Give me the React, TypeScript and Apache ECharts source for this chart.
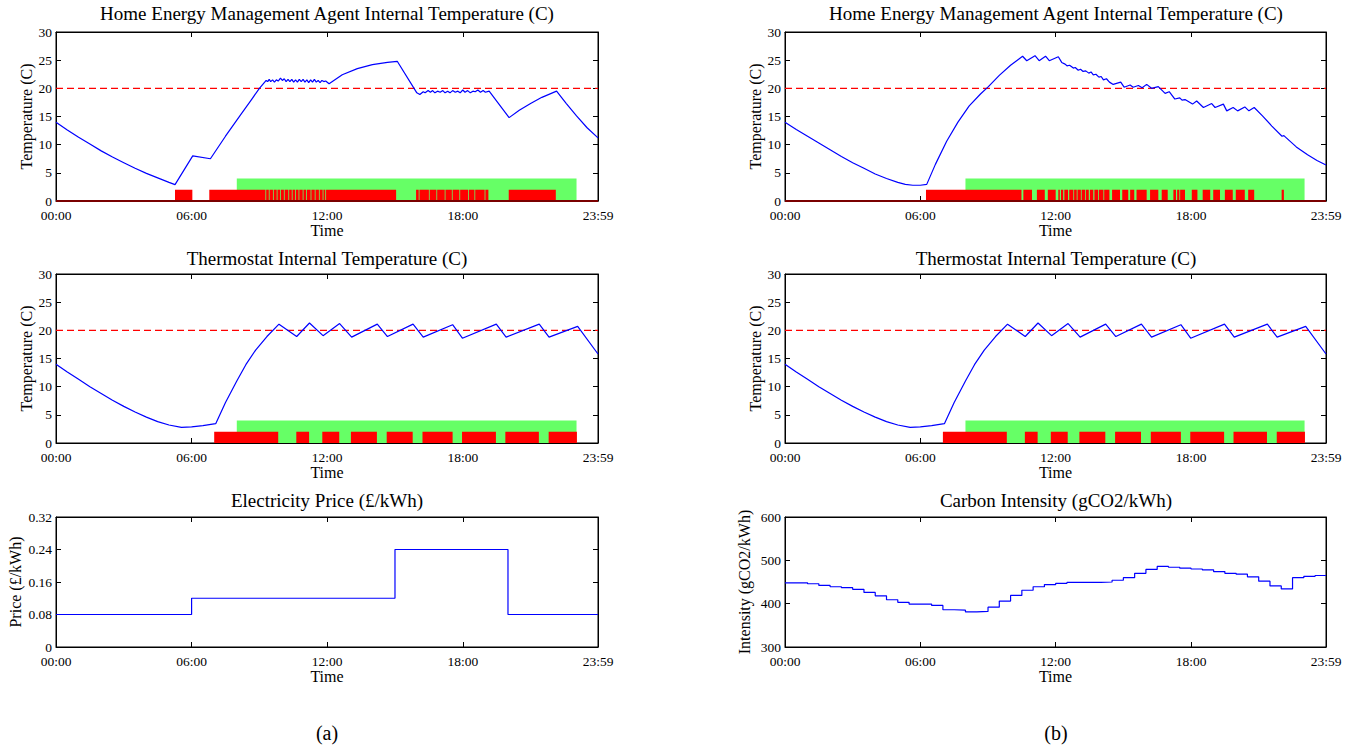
import React, { useEffect, useRef } from "react";
import * as echarts from "echarts";

const FONT = "'Liberation Serif', 'Times New Roman', serif";

// ---- axis ticks ----
const xTickValues = [0, 360, 720, 1080, 1439];
const xTickLabels = ["00:00", "06:00", "12:00", "18:00", "23:59"];
const dayEnd = 1439;
const setpoint = 20;
const heatLevel = 2;
const comfortLevel = 4;
const comfortWindow = [[480, 1382]];

// ---- (a) HEMS agent internal temperature [minute, degC] ----
const hemsTempA = [
  [0, 14.0], [30, 12.6], [60, 11.3], [90, 10.1], [120, 8.9], [150, 7.8], [180, 6.8], [210, 5.8],
  [240, 4.9], [270, 4.1], [300, 3.3], [316, 2.9], [363, 8.0], [410, 7.5], [450, 11.5], [490, 15.3],
  [520, 18.1], [540, 20.0], [558, 21.4], [562, 21.2], [566, 21.6], [570, 21.2], [575, 21.5], [580, 21.1],
  [585, 21.5], [590, 21.3], [596, 21.8], [601, 21.4], [606, 21.7], [611, 21.2], [616, 21.6], [621, 21.2],
  [626, 21.6], [631, 21.1], [636, 21.5], [641, 21.1], [646, 21.6], [651, 21.2], [656, 21.6], [661, 21.1],
  [666, 21.5], [671, 21.0], [676, 21.5], [681, 21.1], [686, 21.6], [691, 21.1], [696, 21.4], [701, 21.0],
  [706, 21.4], [711, 21.2], [716, 21.3], [725, 20.8], [760, 22.4], [800, 23.5], [840, 24.2], [880, 24.6],
  [906, 24.8], [958, 19.2], [966, 18.9], [975, 19.4], [980, 19.2], [988, 19.6], [994, 19.3], [1000, 19.6],
  [1006, 19.2], [1013, 19.5], [1020, 19.3], [1027, 19.6], [1033, 19.2], [1040, 19.5], [1046, 19.2],
  [1053, 19.6], [1060, 19.3], [1067, 19.5], [1073, 19.2], [1080, 19.7], [1086, 19.3], [1093, 19.6],
  [1100, 19.2], [1107, 19.5], [1113, 19.4], [1120, 19.7], [1127, 19.3], [1134, 19.6], [1140, 19.3],
  [1150, 19.5], [1203, 14.8], [1230, 16.1], [1260, 17.3], [1290, 18.4], [1329, 19.5], [1355, 17.3],
  [1382, 15.1], [1410, 13.0], [1439, 11.2],
];
// heater on intervals [start, end] minutes
const hemsHeatA = [
  [316, 362], [407, 556], [558, 565], [567, 576], [578, 586], [588, 595], [597, 605], [607, 617],
  [619, 626], [628, 635], [637, 644], [646, 655], [657, 664], [666, 676], [678, 687], [689, 698],
  [700, 708], [710, 715], [717, 903], [956, 963], [965, 990], [992, 1010], [1012, 1032], [1034, 1051],
  [1053, 1071], [1073, 1094], [1096, 1111], [1113, 1138], [1140, 1148], [1202, 1327],
];

// ---- (b) HEMS agent internal temperature ----
const hemsTempB = [
  [0, 14.0], [30, 12.7], [60, 11.5], [90, 10.3], [120, 9.1], [150, 7.9], [180, 6.8], [210, 5.8],
  [240, 4.8], [270, 4.0], [300, 3.3], [320, 2.95], [340, 2.8], [360, 2.8], [377, 2.95], [400, 6.5],
  [430, 10.6], [460, 14.0], [490, 16.9], [520, 19.0], [541, 20.3], [570, 22.3], [600, 24.1], [632, 25.7],
  [643, 24.9], [665, 25.8], [676, 24.9], [693, 25.7], [703, 24.9], [727, 25.6], [736, 24.6], [745, 24.3],
  [750, 24.0], [757, 24.1], [767, 23.6], [772, 23.7], [780, 23.2], [786, 23.4], [793, 23.0], [800, 23.1],
  [808, 22.7], [814, 22.9], [820, 22.4], [827, 22.5], [835, 22.0], [841, 22.1], [847, 21.5], [855, 21.7],
  [863, 21.1], [873, 20.7], [893, 21.1], [902, 20.2], [918, 20.6], [926, 20.2], [940, 20.5], [950, 20.1],
  [962, 20.7], [975, 20.0], [993, 20.3], [1011, 19.1], [1022, 19.4], [1037, 18.1], [1050, 18.3],
  [1056, 17.9], [1064, 18.0], [1084, 17.2], [1095, 17.75], [1113, 16.6], [1135, 17.3], [1144, 16.6],
  [1166, 17.2], [1175, 16.0], [1192, 16.6], [1204, 16.0], [1223, 16.7], [1234, 16.0], [1248, 16.6],
  [1270, 15.1], [1295, 13.3], [1322, 11.5], [1327, 11.6], [1332, 11.3], [1360, 9.6], [1390, 8.2],
  [1415, 7.2], [1439, 6.4],
];
const hemsHeatB = [
  [375, 629], [634, 657], [670, 691], [699, 720], [727, 731], [734, 740], [743, 753], [756, 767],
  [769, 776], [778, 787], [789, 798], [800, 808], [811, 820], [823, 833], [835, 847], [849, 863],
  [870, 891], [897, 913], [918, 929], [935, 962], [971, 993], [1002, 1018], [1033, 1040], [1043, 1049],
  [1051, 1064], [1082, 1097], [1111, 1131], [1139, 1157], [1170, 1191], [1199, 1223], [1232, 1248],
  [1321, 1327],
];

// ---- thermostat internal temperature (same in a and b) ----
const thermoTemp = [
  [0, 14.0], [30, 12.6], [60, 11.3], [90, 10.0], [120, 8.8], [150, 7.6], [180, 6.5], [210, 5.5],
  [240, 4.6], [270, 3.8], [300, 3.2], [333, 2.78], [360, 2.85], [390, 3.1], [424, 3.43], [450, 7.2],
  [480, 11.0], [504, 13.9], [530, 16.5], [560, 18.9], [592, 21.1], [639, 18.9], [673, 21.3], [709, 19.05],
  [753, 21.2], [785, 18.8], [853, 21.1], [880, 18.9], [948, 21.1], [975, 18.8], [1053, 21.0], [1079, 18.6],
  [1169, 21.1], [1195, 18.8], [1283, 21.1], [1309, 18.8], [1385, 20.7], [1439, 15.8],
];
const thermoHeat = [
  [420, 590], [638, 672], [707, 752], [783, 852], [878, 947], [973, 1053], [1078, 1168], [1193, 1282],
  [1308, 1383],
];

// ---- electricity price ----
const priceTimes = [0, 360, 900, 1200, 1439];
const priceValues = [0.08, 0.12, 0.24, 0.08, 0.08];

// ---- carbon intensity ----
const carbonTimes = [
  0, 30, 60, 90, 120, 150, 180, 210, 240, 270, 300, 330, 360, 390, 420, 450, 480, 510, 540, 570, 600,
  630, 660, 690, 720, 750, 780, 810, 840, 870, 900, 930, 960, 990, 1020, 1050, 1080, 1110, 1140, 1170,
  1200, 1230, 1260, 1290, 1320, 1350, 1380, 1410, 1439,
];
const carbonValues = [
  448, 448, 446, 442, 439, 437, 433, 426, 418, 409, 403, 399, 399, 396, 386, 385, 381, 382, 392, 406, 419,
  431, 439, 444, 447, 449, 449, 449, 450, 454, 460, 470, 479, 486, 484, 482, 480, 478, 474, 470,
  468, 462, 452, 441, 434, 460, 463, 465, 465,
];

const grids = [
  { left: 56, top: 32, width: 542, height: 169 },
  { left: 785, top: 32, width: 541, height: 169 },
  { left: 56, top: 274, width: 542, height: 169 },
  { left: 785, top: 274, width: 541, height: 169 },
  { left: 56, top: 517, width: 542, height: 130 },
  { left: 785, top: 517, width: 541, height: 130 },
];

const TICK_FONT = 13.5;
const axisLine = { show: true, onZero: false, lineStyle: { color: "#000", width: 1 } };
const tickStyle = { color: "#000", width: 1 };

function xAxes(g: number) {
  const base: any = {
    type: "value",
    gridIndex: g,
    min: 0,
    max: dayEnd,
    axisLine,
    splitLine: { show: false },
    axisTick: { show: true, inside: true, length: 5, customValues: xTickValues, lineStyle: tickStyle },
  };
  return [
    {
      ...base,
      position: "bottom",
      name: "Time",
      nameLocation: "middle",
      nameGap: 17,
      nameTextStyle: { fontFamily: FONT, fontSize: 16, color: "#000" },
      axisLabel: {
        show: true,
        customValues: xTickValues,
        margin: 7,
        fontFamily: FONT,
        fontSize: TICK_FONT,
        color: "#000",
        formatter: (v: number) => {
          const i = xTickValues.indexOf(v);
          return i >= 0 ? xTickLabels[i] : "";
        },
      },
    },
    { ...base, position: "top", axisLabel: { show: false } },
  ];
}

function yAxes(g: number, min: number, max: number, interval: number, name: string, nameGap: number, fmt?: (v: number) => string) {
  const base: any = {
    type: "value",
    gridIndex: g,
    min,
    max,
    interval,
    axisLine,
    splitLine: { show: false },
    axisTick: { show: true, inside: true, length: 5, lineStyle: tickStyle },
  };
  return [
    {
      ...base,
      position: "left",
      name,
      nameLocation: "middle",
      nameRotate: 90,
      nameGap,
      nameTextStyle: { fontFamily: FONT, fontSize: 16, color: "#000" },
      axisLabel: { show: true, margin: 4, fontFamily: FONT, fontSize: TICK_FONT, color: "#000", formatter: fmt },
    },
    { ...base, position: "right", axisLabel: { show: false } },
  ];
}

function rectSeries(g: number, intervals: number[][], level: number, color: string, z: number) {
  return {
    type: "custom",
    xAxisIndex: 2 * g,
    yAxisIndex: 2 * g,
    silent: true,
    z,
    data: intervals.map(([s, e]) => [s, e, level]),
    encode: { x: [0, 1], y: 2 },
    renderItem: (_p: any, api: any) => {
      const p1 = api.coord([api.value(0), api.value(2)]);
      const p2 = api.coord([api.value(1), 0]);
      return {
        type: "rect",
        shape: { x: p1[0], y: p1[1], width: p2[0] - p1[0], height: p2[1] - p1[1] },
        style: { fill: color },
      };
    },
  };
}

function lineSeries(g: number, data: number[][], color: string, width: number, z: number, extra: any = {}) {
  return {
    type: "line",
    xAxisIndex: 2 * g,
    yAxisIndex: 2 * g,
    data,
    symbol: "none",
    showSymbol: false,
    silent: true,
    z,
    lineStyle: { color, width },
    ...extra,
  };
}

function setpointSeries(g: number) {
  return lineSeries(g, [[0, setpoint], [dayEnd, setpoint]], "#ff0000", 1.3, 4, {
    lineStyle: { color: "#ff0000", width: 1.3, type: [7, 4] },
  });
}

function tempPanel(g: number, temp: number[][], heat: number[][], baseLine: boolean) {
  const s: any[] = [
    rectSeries(g, comfortWindow, comfortLevel, "#66ff66", 1),
    rectSeries(g, heat, heatLevel, "#ff0000", 2),
    setpointSeries(g),
    lineSeries(g, temp, "#0000ff", 1.2, 5),
  ];
  if (baseLine) {
    s.push(lineSeries(g, [[0, 0], [dayEnd, 0]], "#7a0000", 2, 6, { clip: false }));
  }
  return s;
}

function buildOption() {
  const xAxis: any[] = [];
  const yAxis: any[] = [];
  for (let g = 0; g < 6; g++) xAxis.push(...xAxes(g));
  yAxis.push(...yAxes(0, 0, 30, 5, "Temperature (C)", 22));
  yAxis.push(...yAxes(1, 0, 30, 5, "Temperature (C)", 22));
  yAxis.push(...yAxes(2, 0, 30, 5, "Temperature (C)", 22));
  yAxis.push(...yAxes(3, 0, 30, 5, "Temperature (C)", 22));
  yAxis.push(...yAxes(4, 0, 0.32, 0.08, "Price (£/kWh)", 33, (v: number) => (v === 0 ? "0" : v.toFixed(2))));
  yAxis.push(...yAxes(5, 300, 600, 100, "Intensity (gCO2/kWh)", 33));

  const series: any[] = [
    ...tempPanel(0, hemsTempA, hemsHeatA, true),
    ...tempPanel(1, hemsTempB, hemsHeatB, true),
    ...tempPanel(2, thermoTemp, thermoHeat, false),
    ...tempPanel(3, thermoTemp, thermoHeat, false),
    lineSeries(4, priceTimes.map((t, i) => [t, priceValues[i]]), "#0000ff", 1.2, 5, { step: "end" }),
    lineSeries(5, carbonTimes.map((t, i) => [t, carbonValues[i]]), "#0000ff", 1.2, 5, { step: "end" }),
  ];

  const titleText = (text: string, x: number, y: number, size: number) => ({
    type: "text",
    x,
    y,
    silent: true,
    style: {
      text,
      fill: "#000",
      font: `${size}px ${FONT}`,
      fontFamily: FONT,
      fontSize: size,
      align: "center",
      verticalAlign: "middle",
      textAlign: "center",
      textVerticalAlign: "middle",
    },
  });

  return {
    animation: false,
    backgroundColor: "#fff",
    grid: grids.map((gr) => ({ ...gr, show: true, borderColor: "#000", borderWidth: 1, backgroundColor: "transparent" })),
    xAxis,
    yAxis,
    series,
    graphic: [
      titleText("Home Energy Management Agent Internal Temperature (C)", 327, 13, 19),
      titleText("Home Energy Management Agent Internal Temperature (C)", 1056, 13, 19),
      titleText("Thermostat Internal Temperature (C)", 327, 258, 19),
      titleText("Thermostat Internal Temperature (C)", 1056, 258, 19),
      titleText("Electricity Price (£/kWh)", 327, 500, 19),
      titleText("Carbon Intensity (gCO2/kWh)", 1056, 500, 19),
      titleText("(a)", 327, 733, 20),
      titleText("(b)", 1056, 733, 20),
    ],
  };
}

export default function App() {
  const ref = useRef<HTMLDivElement>(null);
  useEffect(() => {
    if (!ref.current) return;
    const chart = echarts.init(ref.current, undefined, { renderer: "svg" });
    chart.setOption(buildOption() as any);
    return () => chart.dispose();
  }, []);
  return (
    <div
      ref={ref}
      style={{ position: "absolute", left: 0, top: 0, width: 1354, height: 748, background: "#fff" }}
    />
  );
}
